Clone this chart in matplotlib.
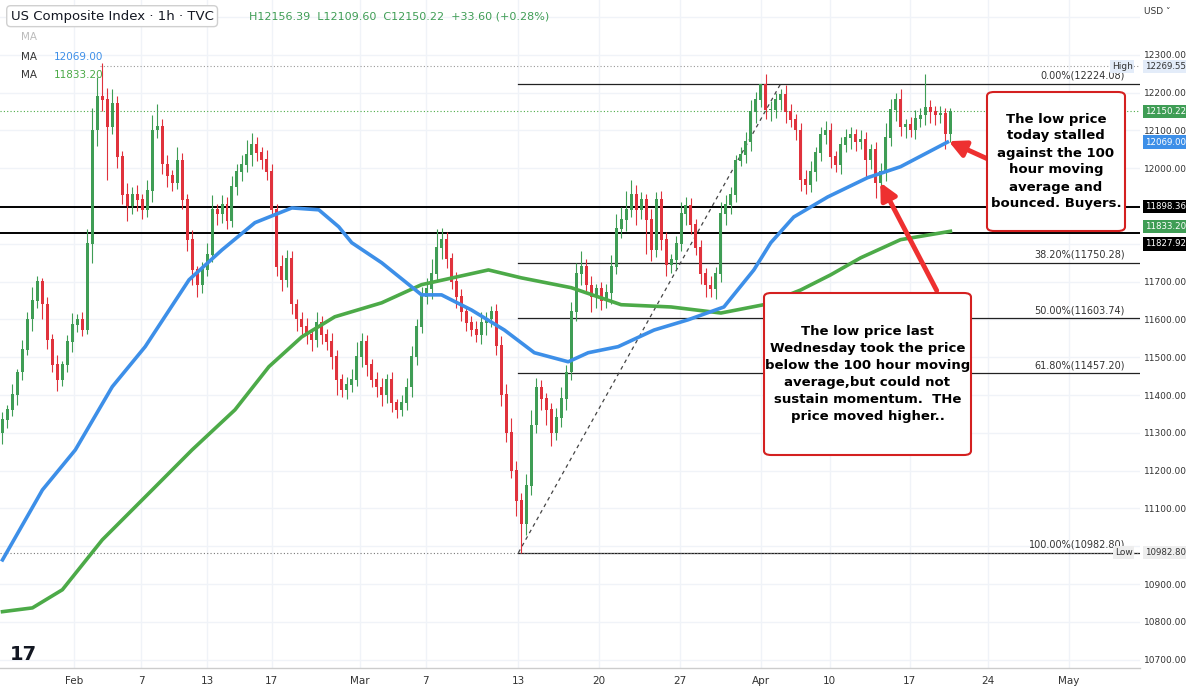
import numpy as np
import matplotlib.pyplot as plt
from matplotlib.patches import FancyBboxPatch

# hourly-ish closes, one candle per slot
closes = [11334, 11360, 11400, 11460, 11520, 11600, 11650, 11700, 11640, 11546,
          11480, 11440, 11480, 11540, 11586, 11599, 11572, 11800, 12100, 12190,
          12181, 12110, 12170, 12030, 11930, 11900, 11930, 11916, 11890, 11940,
          12100, 12110, 12010, 11980, 11960, 12020, 11916, 11811, 11731, 11690,
          11731, 11771, 11890, 11880, 11903, 11860, 11950, 11990, 12009, 12035,
          12062, 12040, 12022, 11990, 11890, 11740, 11705, 11760, 11640, 11600,
          11580, 11560, 11546, 11590, 11560, 11540, 11500, 11440, 11414, 11427,
          11440, 11500, 11540, 11480, 11440, 11420, 11400, 11440, 11380, 11360,
          11380, 11420, 11500, 11580, 11660, 11680, 11720, 11790, 11811, 11760,
          11700, 11660, 11620, 11590, 11572, 11560, 11590, 11600, 11620, 11530,
          11400, 11300, 11200, 11120, 11060, 11160, 11320, 11420, 11390, 11360,
          11300, 11340, 11390, 11460, 11620, 11720, 11740, 11690, 11660, 11680,
          11650, 11670, 11740, 11840, 11863, 11890, 11930, 11890, 11916, 11863,
          11784, 11916, 11810, 11744, 11758, 11800, 11880, 11900, 11850, 11790,
          11720, 11690, 11680, 11720, 11880, 11903, 11930, 12020, 12035, 12070,
          12150, 12181, 12220, 12154, 12154, 12180, 12194, 12150, 12128, 12100,
          11969, 11956, 11990, 12040, 12088, 12100, 12030, 12009, 12062, 12080,
          12088, 12070, 12075, 12022, 12050, 11960, 11990, 12080, 12154, 12180,
          12110, 12115, 12102, 12130, 12140, 12160, 12150, 12140, 12145, 12090,
          12150.22]
opens = [11300] + closes[:-1]
wick_up = [20, 15, 30, 10, 25, 20, 35, 15, 10, 20, 15, 25, 10, 20, 30, 15, 20, 40, 60, 50,
           88, 30, 40, 20, 15, 30, 20, 25, 15, 30, 40, 60, 20, 25, 15, 35, 20, 15, 25, 10,
           20, 30, 40, 15, 25, 20, 30, 20, 25, 40, 30, 20, 15, 25, 20, 15, 30, 25, 20, 15,
           20, 25, 15, 30, 20, 15, 25, 20, 15, 20, 30, 40, 25, 20, 15, 20, 25, 15, 20, 10,
           20, 25, 30, 20, 25, 30, 40, 50, 30, 20, 15, 25, 20, 15, 20, 25, 30, 20, 15, 20,
           25, 30, 40, 25, 20, 30, 40, 25, 20, 15, 20, 25, 30, 20, 25, 30, 40, 20, 25, 15,
           20, 25, 30, 40, 35, 50, 40, 25, 20, 15, 30, 20, 25, 20, 15, 20, 30, 25, 20, 15,
           20, 15, 25, 20, 30, 25, 20, 15, 20, 25, 30, 20, 4, 30, 25, 20, 15, 25, 20, 15,
           20, 25, 30, 15, 20, 25, 20, 15, 20, 25, 20, 15, 25, 20, 15, 20, 25, 40, 30, 20,
           30, 15, 20, 25, 20, 90, 20, 15, 20, 15, 10]
wick_dn = [30, 20, 15, 25, 20, 15, 30, 20, 40, 25, 20, 30, 15, 20, 25, 20, 15, 10, 50, 40,
           30, 140, 20, 30, 25, 40, 20, 30, 25, 20, 30, 20, 25, 30, 20, 15, 25, 30, 40, 30,
           20, 15, 20, 30, 25, 20, 15, 20, 25, 20, 30, 20, 25, 20, 15, 25, 30, 20, 25, 30,
           20, 25, 30, 20, 25, 20, 30, 40, 20, 25, 20, 15, 25, 30, 20, 25, 30, 20, 25, 20,
           15, 20, 25, 20, 15, 20, 25, 20, 30, 25, 20, 30, 25, 20, 15, 20, 25, 30, 20, 25,
           30, 25, 20, 40, 77, 30, 25, 20, 30, 40, 35, 20, 25, 30, 20, 25, 30, 20, 40, 30,
           25, 20, 30, 20, 25, 30, 20, 40, 25, 90, 30, 20, 25, 30, 20, 25, 20, 30, 25, 20,
           25, 30, 20, 25, 20, 30, 25, 20, 15, 20, 25, 30, 20, 25, 30, 20, 25, 30, 20, 25,
           30, 25, 20, 25, 20, 25, 30, 20, 25, 20, 30, 25, 20, 50, 25, 40, 20, 25, 20, 30,
           25, 30, 20, 25, 20, 25, 30, 25, 20, 40, 20]

# moving averages sampled off the chart (x in candle slots)
ma100_x = [0, 8, 14.6, 22, 28.6, 37.4, 44, 50.6, 58, 63.4, 67.4, 70, 76, 84, 88, 94, 100.6,
           106.6, 113.4, 117.4, 123.4, 130.6, 137.4, 144.6, 150.6, 154, 158.6, 165.4, 173.4,
           180, 189.4]
ma100 = [10964, 11149, 11255, 11422, 11528, 11705, 11784, 11856, 11895, 11890, 11845,
         11803, 11750, 11665, 11665, 11625, 11572, 11512, 11488, 11512, 11528, 11572,
         11599, 11633, 11731, 11803, 11871, 11924, 11975, 12004, 12069]
ma200_x = [0, 6, 12, 20, 30, 38, 46.6, 53.4, 60, 66.6, 76, 84, 97.4, 104, 114, 124, 134,
           144, 152.6, 160, 166, 172, 180, 190]
ma200 = [10827, 10837, 10885, 11017, 11149, 11255, 11361, 11475, 11554, 11607, 11644,
         11692, 11731, 11710, 11684, 11639, 11633, 11617, 11639, 11678, 11718, 11763,
         11811, 11833.2]

tick_pos = [14.4, 27.8, 41, 54, 71.6, 84.8, 103.4, 119.6, 135.8, 152, 165.8, 181.8, 197.6, 213.8]
tick_lab = ['Feb', '7', '13', '17', 'Mar', '7', '13', '20', '27', 'Apr', '10', '17', '24', 'May']

fib_levels = [12224.08, 11750.28, 11603.74, 11457.20, 10982.80]
fib_names = ['0.00%', '38.20%', '50.00%', '61.80%', '100.00%']
levels = [11898.36, 11827.92]

GREEN = '#3f9d55'
RED = '#e0323c'
BLUE = '#3d8fe8'
MAGREEN = '#4caa48'

fig = plt.figure(figsize=(11.86, 6.91), dpi=100)
ax = fig.add_axes([0, 23 / 691, 1140 / 1186, 668 / 691])
ax.set_xlim(-0.5, 228)
ax.set_ylim(10678, 12445)

for y in range(10700, 12500, 100):
    ax.axhline(y, color='#f0f3f8', lw=1, zorder=0)
for t in tick_pos:
    ax.axvline(t, color='#f0f3f8', lw=1, zorder=0)

x = np.arange(len(closes))
o = np.array(opens, float)
c = np.array(closes, float)
hi = np.maximum(o, c) + np.array(wick_up)
lo = np.minimum(o, c) - np.array(wick_dn)
cols = [GREEN if cc >= oo else RED for oo, cc in zip(o, c)]
ax.vlines(x, lo, hi, colors=cols, lw=0.8, zorder=3)
ax.bar(x, np.abs(c - o) + 2, bottom=np.minimum(o, c), width=0.6, color=cols, zorder=3)

ax.plot(ma200_x, ma200, color=MAGREEN, lw=2.6, zorder=4, solid_joinstyle='round')
ax.plot(ma100_x, ma100, color=BLUE, lw=2.6, zorder=4, solid_joinstyle='round')

# fib retracement
for lv, nm in zip(fib_levels, fib_names):
    ax.plot([103.4, 228], [lv, lv], color='#222222', lw=0.9, zorder=2)
    ax.text(225, lv + 8, f'{nm}({lv:.2f})', ha='right', va='bottom', fontsize=7, color='#333333')
ax.plot([103.4, 156], [10982.8, 12224.08], color='#444444', lw=0.9, ls=(0, (3, 3)), zorder=2)
for lv in levels:
    ax.axhline(lv, color='black', lw=1.4, zorder=2)
ax.axhline(12269.55, xmin=20 / 228, color='#999999', lw=0.8, ls=(0, (1, 2)))
ax.axhline(12150.22, color='#4caa48', lw=0.8, ls=(0, (1, 2)))
ax.axhline(10982.8, color='#777777', lw=0.8, ls=(0, (1, 2)))

for s in ax.spines.values():
    s.set_visible(False)
ax.set_xticks(tick_pos)
ax.set_xticklabels(tick_lab, fontsize=7.5, color='#333333')
ax.tick_params(axis='x', length=0, pad=6)
ax.yaxis.tick_right()
yt = [10700, 10800, 10900, 11100, 11200, 11300, 11400, 11500, 11600, 11700, 12000, 12100, 12200, 12300]
ax.set_yticks(yt)
ax.set_yticklabels([f'{v:.2f}' for v in yt], fontsize=6.5, color='#333333')
ax.tick_params(axis='y', length=0, pad=3)
ax.axhline(10678, color='#cccccc', lw=1, clip_on=False)

def price_tag(v, fc, tc='white', shift=0):
    ax.text(229.0, v + shift, f'{v:.2f}', ha='left', va='center', fontsize=6.2,
            color=tc, clip_on=False, bbox=dict(boxstyle='square,pad=0.25', fc=fc, ec='none'), zorder=10)

price_tag(12269.55, '#e3ecf9', '#333333')
price_tag(12150.22, GREEN)
price_tag(12069.00, BLUE)
price_tag(11898.36, 'black')
price_tag(11833.20, GREEN, shift=12)
price_tag(11827.92, 'black', shift=-28)
price_tag(10982.80, '#eeeeee', '#333333')
ax.text(226.5, 12269.55, 'High', ha='right', va='center', fontsize=6.5, color='#333333',
        bbox=dict(boxstyle='square,pad=0.2', fc='#e3ecf9', ec='none'))
ax.text(226.5, 10982.8, 'Low', ha='right', va='center', fontsize=6.5, color='#333333',
        bbox=dict(boxstyle='square,pad=0.2', fc='#eeeeee', ec='none'))
fig.text(0.965, 0.99, 'USD ˅', fontsize=6.5, color='#333333', va='top')

# header
fig.text(0.009, 0.986, 'US Composite Index · 1h · TVC', fontsize=9.5, color='#131722', va='top',
         bbox=dict(boxstyle='round,pad=0.3', fc='white', ec='#d0d0d0'))
fig.text(0.21, 0.984, 'H12156.39  L12109.60  C12150.22  +33.60 (+0.28%)', fontsize=8, color=GREEN, va='top')
fig.text(0.018, 0.953, 'MA', fontsize=7.5, color='#bbbbbb', va='top')
fig.text(0.018, 0.925, 'MA', fontsize=7.5, color='#333333', va='top')
fig.text(0.045, 0.925, '12069.00', fontsize=7.5, color=BLUE, va='top')
fig.text(0.018, 0.898, 'MA', fontsize=7.5, color='#333333', va='top')
fig.text(0.045, 0.898, '11833.20', fontsize=7.5, color=MAGREEN, va='top')
fig.text(0.008, 0.045, '17', fontsize=14, fontweight='bold', color='#131722')

# annotations
def note(x0, y0, w, h, txt, fs):
    box = FancyBboxPatch((x0 / 1186, 1 - (y0 + h) / 691), w / 1186, h / 691,
                         boxstyle='round,pad=0,rounding_size=0.006', transform=fig.transFigure,
                         fc='white', ec='#d42020', lw=1.5, zorder=20)
    fig.patches.append(box)
    fig.text((x0 + w / 2) / 1186, 1 - (y0 + h / 2) / 691, txt, ha='center', va='center',
             fontsize=fs, fontweight='bold', color='black', linespacing=1.4, zorder=21)

def arrow(xa, ya, xb, yb):
    fig.add_artist(plt.Annotation('', xy=(xb / 1186, 1 - yb / 691), xytext=(xa / 1186, 1 - ya / 691),
                   xycoords='figure fraction', arrowprops=dict(arrowstyle='-|>,head_width=0.5,head_length=1',
                   color='#ee3030', lw=3.5)))

arrow(990, 160, 946, 140)
arrow(938, 293, 879, 180)
note(987, 92, 138, 139, 'The low price\ntoday stalled\nagainst the 100\nhour moving\naverage and\nbounced. Buyers.', 9.5)
note(764, 293, 207, 162, 'The low price last\nWednesday took the price\nbelow the 100 hour moving\naverage,but could not\nsustain momentum.  THe\nprice moved higher..', 9.5)

fig.savefig('out.png', dpi=100)
